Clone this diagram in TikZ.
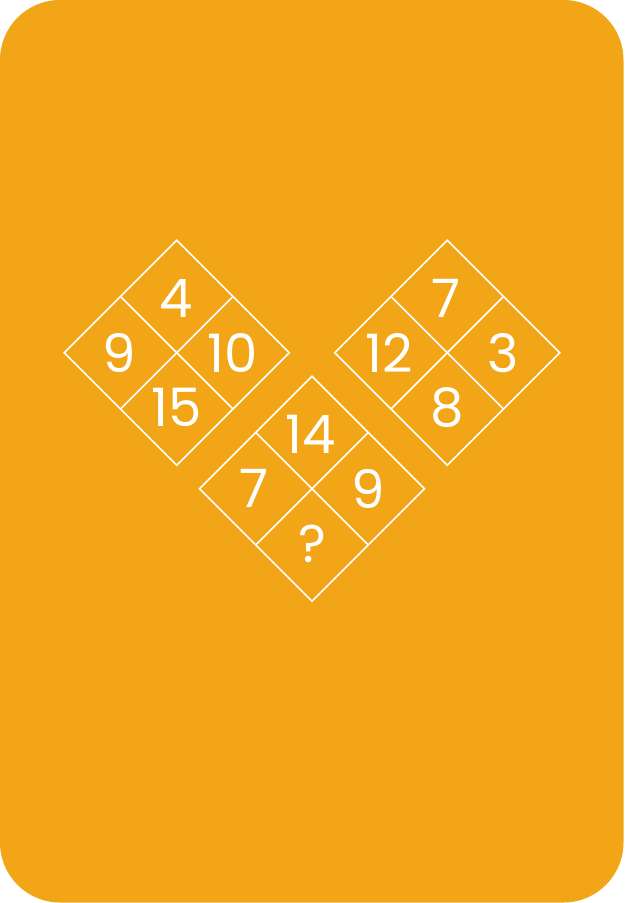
\documentclass[tikz,border=0pt]{standalone}
\usepackage{fontspec}
\setmainfont{Poppins}
\definecolor{cardorange}{HTML}{F2A516}
\newcommand\mydiapuzzle[7]{%
  % #1 name, #2 cx, #3 cy, #4 top, #5 left, #6 right, #7 bottom
  \draw[gridline] (#2,#3-112.5) -- (#2+112.5,#3) -- (#2,#3+112.5) -- (#2-112.5,#3) -- cycle;
  \draw[gridline] (#2-56.25,#3-56.25) -- (#2+56.25,#3+56.25);
  \draw[gridline] (#2+56.25,#3-56.25) -- (#2-56.25,#3+56.25);
  \node[num] (#1top) at (#2-1,#3-54) {#4};
  \node[num] (#1left) at (#2-58,#3) {#5};
  \node[num] (#1right) at (#2+56,#3) {#6};
  \node[num] (#1bottom) at (#2,#3+55) {#7};
}
\begin{document}
\begin{tikzpicture}[x=1pt,y=-1pt,
  gridline/.style={draw=white,line width=1.6pt},
  num/.style={text=white,font=\fontsize{53}{53}\selectfont,inner sep=0pt,anchor=center}]
\useasboundingbox (0,0) rectangle (625,903);
\fill[cardorange, rounded corners=60pt] (0,0) rectangle (623.5,902.5);
\mydiapuzzle{a}{176.7}{352.7}{4}{9}{10}{15}
\mydiapuzzle{b}{447.3}{352.7}{7}{12}{3}{8}
\mydiapuzzle{c}{312}{488.7}{14}{7}{9}{?}
\end{tikzpicture}
\end{document}
